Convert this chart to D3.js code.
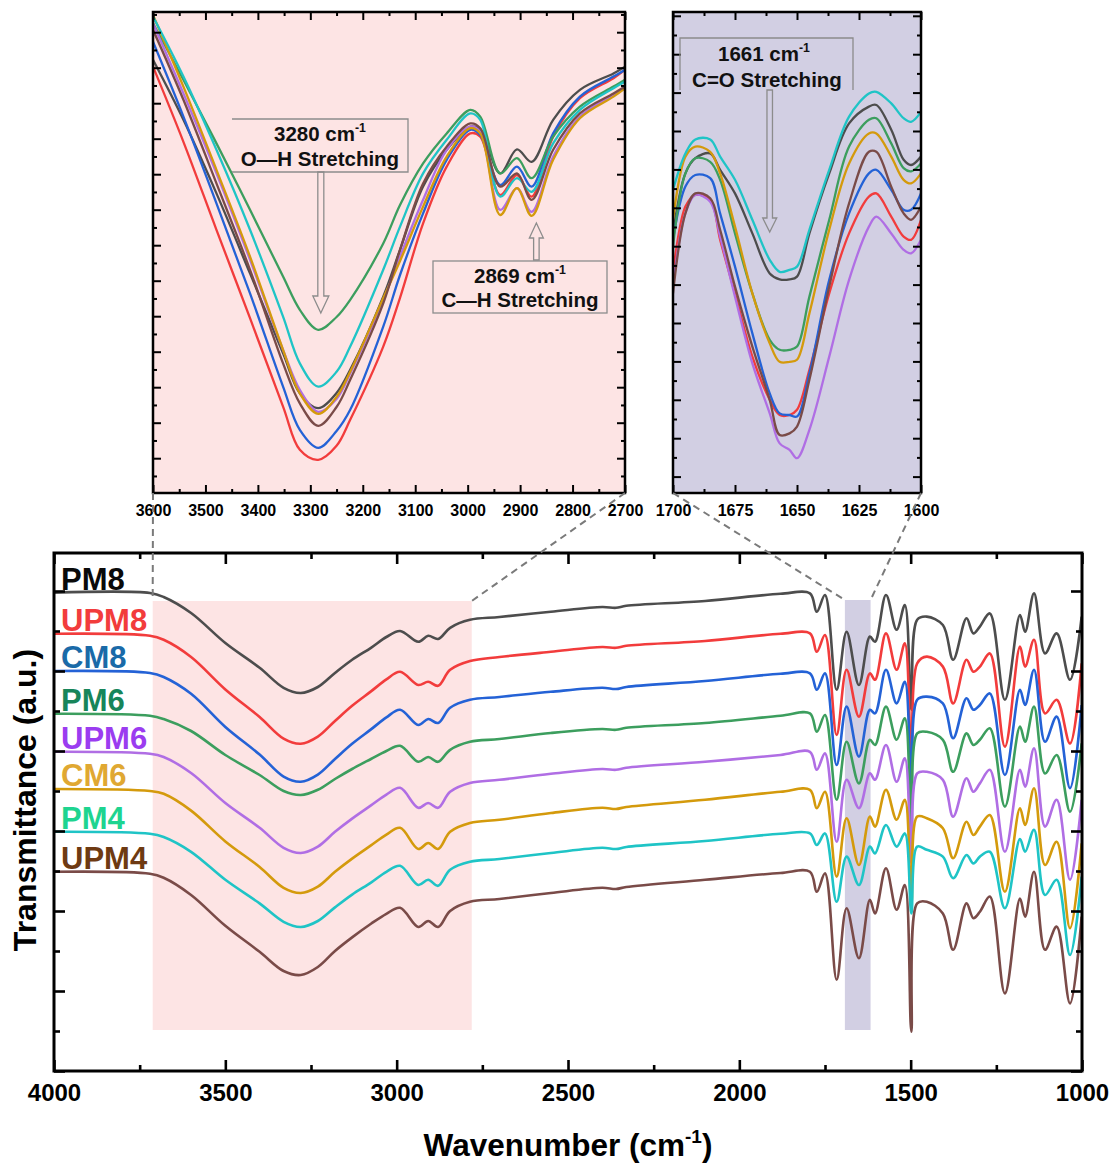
<!DOCTYPE html>
<html>
<head>
<meta charset="utf-8">
<script src="https://cdn.jsdelivr.net/npm/d3@7"></script>
<style>
  body { margin: 0; background: #fff; }
  svg { display: block; }
  text { font-family: "Liberation Sans", Arial, Helvetica, sans-serif; font-weight: bold; }
</style>
</head>
<body>
<svg id="chart" width="1113" height="1164"></svg>
<script>
// ---------------- samples ----------------
const sampleNames = ["PM8", "UPM8", "CM8", "PM6", "UPM6", "CM6", "PM4", "UPM4"];
const lineColors  = ["#4d4d4d", "#f23c3c", "#2462d6", "#3c9e5e", "#b06ee4", "#d49a0c", "#1fc4c6", "#7a4b48"];
const labelColors = ["#0a0a0a", "#f23c3c", "#1a6aa8", "#17855a", "#9b3cf0", "#e0a832", "#1ed490", "#6e3a12"];

// ---------------- full spectra, 4000–1000 cm-1 (stacked, a.u.) ----------------
const mainWavenumbers = [4000, 3720, 3680, 3600, 3500, 3400, 3330, 3280, 3230, 3180,
  3130, 3075, 3030, 2990, 2937, 2908, 2879, 2844, 2786, 2700,
  2550, 2400, 2360, 2330, 2100, 1880,
  1794, 1774, 1750, 1716, 1687, 1651, 1619, 1604, 1572, 1541,
  1517, 1498, 1481, 1453, 1406, 1376, 1337, 1317, 1298, 1269,
  1225, 1181, 1166, 1140, 1108, 1074, 1035, 1001];

const mainPM8 = [119.6, 119.5, 118.5, 114.5, 107.0, 100.8, 95.8, 94.5, 96.0, 99.5,
  102.8, 105.8, 108.5, 110.0, 107.3, 108.8, 108.0, 110.8, 112.8, 113.5,
  114.8, 116.0, 115.8, 116.3, 117.5, 119.3,
  119.4, 114.8, 119.0, 95.3, 109.8, 96.5, 108.6, 107.3, 119.0, 110.3,
  116.5, 90.3, 112.8, 113.6, 111.5, 102.8, 113.2, 109.4, 111.1, 114.4,
  92.8, 114.0, 109.8, 119.4, 104.4, 109.4, 97.8, 113.6];
const mainUPM8 = [109.3, 108.8, 107.8, 103.5, 95.4, 88.5, 83.1, 81.8, 83.6, 87.5,
  91.3, 94.9, 97.9, 99.8, 96.5, 97.3, 96.3, 100.3, 102.5, 103.5,
  104.8, 106.0, 105.8, 106.3, 107.5, 109.3,
  109.4, 104.8, 109.0, 84.0, 100.3, 88.6, 99.4, 97.8, 109.4, 100.3,
  106.9, 78.6, 101.9, 103.6, 101.1, 91.9, 102.8, 99.8, 101.1, 104.4,
  81.1, 106.1, 101.1, 107.8, 89.4, 92.8, 81.9, 101.9];
const mainCM8 = [100.0, 99.5, 98.5, 94.3, 86.0, 79.1, 73.6, 72.3, 74.1, 78.0,
  81.8, 85.4, 88.4, 90.3, 86.5, 88.0, 87.0, 90.8, 92.8, 93.5,
  94.8, 95.8, 95.5, 96.0, 97.5, 99.3,
  99.4, 95.3, 99.4, 76.5, 91.1, 78.6, 90.3, 89.4, 100.3, 91.9,
  97.3, 68.6, 92.8, 93.6, 91.9, 83.2, 93.2, 90.3, 91.5, 94.4,
  74.0, 95.3, 91.5, 100.3, 82.3, 88.6, 70.7, 91.5];
const mainPM6 = [89.3, 88.8, 88.0, 85.0, 79.0, 74.0, 70.0, 69.0, 70.3, 73.0,
  75.5, 78.0, 80.0, 81.3, 77.3, 78.5, 77.3, 80.3, 82.3, 83.0,
  84.5, 85.5, 85.3, 85.8, 87.0, 88.8,
  89.4, 84.8, 89.0, 67.8, 82.3, 71.9, 82.8, 81.5, 91.1, 82.8,
  88.2, 59.4, 84.4, 84.8, 82.8, 74.8, 84.4, 81.5, 82.8, 85.7,
  66.1, 86.1, 82.3, 91.1, 74.4, 79.0, 64.8, 81.9];
const mainUPM6 = [79.8, 79.3, 78.5, 74.5, 67.0, 60.8, 55.8, 54.5, 56.1, 59.8,
  63.1, 66.4, 69.1, 70.8, 65.8, 67.0, 65.8, 69.8, 72.0, 72.8,
  74.3, 75.5, 75.3, 75.8, 77.3, 79.0,
  79.8, 75.3, 79.4, 57.3, 72.8, 65.7, 74.4, 72.8, 81.5, 72.3,
  78.2, 51.9, 74.4, 74.8, 72.8, 63.6, 73.2, 69.8, 71.9, 75.3,
  54.8, 75.3, 71.1, 80.7, 61.1, 67.8, 47.8, 67.8];
const mainCM6 = [70.5, 70.0, 69.3, 65.1, 57.4, 51.0, 45.8, 44.5, 46.1, 49.8,
  53.1, 56.4, 59.1, 60.8, 55.5, 57.0, 55.5, 59.8, 62.0, 62.8,
  64.5, 65.8, 65.5, 66.0, 67.8, 69.8,
  70.3, 65.7, 69.8, 48.6, 63.2, 51.5, 63.6, 61.1, 70.3, 62.8,
  67.8, 41.9, 63.6, 63.2, 60.7, 53.2, 62.3, 59.0, 61.1, 64.0,
  44.8, 65.7, 61.5, 70.7, 51.5, 57.3, 35.7, 56.9];
const mainPM4 = [59.8, 59.3, 58.5, 54.8, 47.8, 41.9, 37.3, 36.0, 37.5, 40.9,
  44.1, 47.1, 49.8, 51.3, 46.5, 47.8, 46.3, 50.3, 52.3, 53.0,
  54.5, 55.8, 55.5, 56.0, 57.5, 59.3,
  59.4, 56.5, 59.4, 42.3, 53.6, 46.5, 56.1, 54.4, 61.5, 56.1,
  59.4, 39.4, 56.1, 55.3, 53.6, 48.2, 54.0, 51.9, 53.6, 54.8,
  40.7, 58.0, 54.8, 60.3, 44.0, 47.8, 29.0, 48.6];
const mainUPM4 = [49.8, 49.3, 48.3, 44.0, 36.3, 29.8, 25.0, 24.0, 26.0, 30.0,
  33.4, 36.8, 39.3, 40.8, 36.0, 37.5, 36.0, 40.0, 42.3, 43.0,
  44.5, 45.8, 45.5, 46.0, 47.8, 49.5,
  49.8, 44.8, 49.4, 22.8, 40.7, 28.2, 42.8, 39.4, 50.7, 40.3,
  46.5, 9.8, 41.9, 42.3, 39.4, 30.3, 41.9, 38.2, 39.8, 43.6,
  19.4, 43.1, 38.6, 49.8, 30.3, 36.1, 16.9, 38.6];

// ---------------- O–H / C–H region, 3600–2700 cm-1 (overlaid, a.u.) ----------------
const ohWavenumbers = [3600, 3542, 3479, 3415, 3352, 3320, 3285, 3250, 3224, 3161,
  3129, 3085, 3040, 2995, 2976, 2938, 2906, 2878, 2837, 2786, 2722, 2700];
const ohPM8  = [108.3, 93.3, 74.9, 54.9, 34.9, 24.9, 21.2, 25.0, 30.8, 49.1, 60.8, 76.6, 85.8, 91.6, 90.8, 79.9, 85.9, 82.8, 93.3, 100.8, 104.9, 106.6];
const ohUPM8 = [106.6, 87.8, 65.8, 43.7, 21.6, 10.8, 8.3, 11.8, 18.3, 36.6, 48.8, 67.4, 81.6, 89.9, 89.1, 74.5, 79.5, 74.1, 89.1, 98.7, 103.7, 105.8];
const ohCM8  = [112.8, 94.1, 72.4, 49.9, 26.6, 15.8, 11.3, 15.5, 20.8, 41.6, 54.5, 69.9, 83.3, 90.8, 89.5, 77.0, 81.6, 76.6, 89.9, 99.1, 104.1, 105.8];
const ohPM6  = [117.4, 103.3, 87.4, 70.8, 54.1, 45.8, 40.8, 44.0, 48.3, 62.4, 72.0, 82.4, 89.9, 95.8, 94.1, 79.9, 83.7, 78.7, 89.1, 96.6, 101.6, 103.3];
const ohUPM6 = [117.4, 99.9, 79.9, 58.3, 35.8, 25.8, 20.3, 23.5, 29.9, 48.3, 59.1, 73.3, 85.8, 91.6, 90.3, 70.8, 76.2, 70.3, 84.1, 94.1, 99.5, 101.2];
const ohCM6  = [119.5, 101.6, 80.8, 59.1, 35.8, 24.9, 19.8, 24.0, 30.3, 48.7, 58.0, 71.6, 84.1, 91.2, 89.9, 69.5, 76.2, 69.3, 83.3, 93.7, 99.1, 101.2];
const ohPM4  = [119.1, 104.1, 85.8, 65.8, 44.1, 32.4, 26.6, 30.3, 36.6, 55.8, 66.6, 79.9, 88.3, 94.9, 93.3, 74.1, 78.7, 75.3, 87.4, 95.8, 101.2, 102.8];
const ohUPM4 = [115.8, 98.3, 77.4, 55.8, 32.4, 22.4, 16.8, 21.5, 28.3, 47.4, 60.8, 77.4, 86.6, 92.4, 91.2, 76.6, 79.9, 73.3, 85.8, 94.9, 99.9, 101.6];

// ---------------- C=O region, 1700–1600 cm-1 (overlaid, a.u.) ----------------
const coWavenumbers = [1700, 1695, 1691, 1685, 1681, 1675, 1668, 1661, 1657, 1653,
  1650, 1645, 1637, 1629, 1621, 1618, 1612, 1607, 1604, 1600];
const coPM8  = [64.9, 79.9, 83.7, 84.9, 80.8, 74.9, 64.9, 54.9, 53.4, 53.4, 54.1, 64.9, 79.9, 92.4, 96.6, 97.0, 90.8, 83.3, 82.0, 84.1];
const coUPM8 = [54.9, 71.6, 74.5, 73.3, 63.3, 49.9, 34.1, 23.3, 19.5, 19.5, 20.8, 30.8, 49.9, 64.9, 74.1, 74.9, 69.1, 64.1, 63.3, 68.3];
const coCM8  = [63.3, 76.6, 79.5, 78.7, 69.9, 56.6, 39.9, 24.9, 19.9, 19.5, 19.1, 29.9, 53.3, 69.9, 79.9, 80.8, 75.8, 70.8, 70.8, 74.9];
const coPM6  = [61.6, 79.9, 83.7, 82.8, 78.3, 64.9, 49.9, 38.3, 35.8, 35.8, 36.6, 49.1, 68.3, 86.6, 93.3, 93.7, 87.4, 81.2, 80.4, 82.4];
const coUPM6 = [51.6, 69.9, 74.5, 72.8, 64.1, 49.1, 32.4, 19.9, 12.4, 10.8, 8.7, 15.8, 34.1, 53.3, 66.6, 69.1, 64.9, 60.8, 59.9, 63.3];
const coCM6  = [68.3, 84.1, 86.6, 85.3, 79.9, 66.6, 49.9, 37.4, 32.8, 32.8, 33.3, 44.9, 65.8, 82.4, 89.9, 89.9, 84.1, 78.3, 77.4, 79.9];
const coPM4  = [75.8, 84.9, 88.4, 88.4, 84.1, 78.3, 68.3, 58.3, 55.3, 55.8, 56.6, 65.8, 80.8, 94.1, 99.9, 100.3, 97.4, 93.7, 92.8, 95.3];
const coUPM4 = [49.9, 69.9, 74.9, 73.7, 65.8, 51.6, 36.6, 23.3, 14.5, 14.9, 16.6, 28.3, 51.6, 72.4, 85.3, 85.3, 76.6, 69.9, 68.3, 71.6];

// ---------------- tick labels ----------------
const mainTickLabels = [4000, 3500, 3000, 2500, 2000, 1500, 1000];
const ohTickLabels = [3600, 3500, 3400, 3300, 3200, 3100, 3000, 2900, 2800, 2700];
const coTickLabels = [1700, 1675, 1650, 1625, 1600];

// highlighted bands and band assignments
const ohBand = [3712, 2781];
const coBand = [1692, 1617];
const ohPeak = 3280, chPeak = 2869, coPeak = 1661;

// ---------------- assemble series ----------------
const mainSeries = [mainPM8, mainUPM8, mainCM8, mainPM6, mainUPM6, mainCM6, mainPM4, mainUPM4];
const ohSeries = [ohPM8, ohUPM8, ohCM8, ohPM6, ohUPM6, ohCM6, ohPM4, ohUPM4];
const coSeries = [coPM8, coUPM8, coCM8, coPM6, coUPM6, coCM6, coPM4, coUPM4];

const svg = d3.select("#chart");
const PINK = "#fde4e4", LAVENDER = "#d2cfe3";

// ---------------- scales ----------------
const xMain = d3.scaleLinear().domain([4000, 1000]).range([54, 1082]);
const yMain = d3.scaleLinear().domain([0, 129.5]).range([1071, 553]);
const xOH = d3.scaleLinear().domain([3600, 2700]).range([153, 625]);
const xCO = d3.scaleLinear().domain([1700, 1600]).range([673, 921]);
const yIn = d3.scaleLinear().domain([0, 120.25]).range([493, 12]);

function pairs(xs, ys) { return xs.map((w, i) => [w, ys[i]]); }

function addClip(id, x0, y0, x1, y1) {
  svg.append("clipPath").attr("id", id).append("rect")
    .attr("x", x0).attr("y", y0).attr("width", x1 - x0).attr("height", y1 - y0);
}

function drawFrameAxes(g, x, y, opts) {
  const [x0, x1] = x.range();
  const [y1, y0] = y.range();
  const styleAxis = sel => {
    sel.select(".domain").remove();
    sel.selectAll("line").attr("stroke", "#000").attr("stroke-width", opts.tickWidth);
  };
  const minorX = opts.minorX, minorY = opts.minorY;
  g.append("g").attr("transform", `translate(0,${y1})`)
    .call(d3.axisBottom(x).tickValues(minorX).tickSize(-opts.minorLen).tickFormat(""))
    .call(styleAxis);
  g.append("g").attr("transform", `translate(0,${y0})`)
    .call(d3.axisTop(x).tickValues(minorX).tickSize(-opts.minorLen).tickFormat(""))
    .call(styleAxis);
  g.append("g").attr("transform", `translate(${x0},0)`)
    .call(d3.axisLeft(y).tickValues(minorY).tickSize(-opts.minorLen).tickFormat(""))
    .call(styleAxis);
  g.append("g").attr("transform", `translate(${x1},0)`)
    .call(d3.axisRight(y).tickValues(minorY).tickSize(-opts.minorLen).tickFormat(""))
    .call(styleAxis);
  const bottom = g.append("g").attr("transform", `translate(0,${y1})`)
    .call(d3.axisBottom(x).tickValues(opts.labels).tickSize(-opts.majorLen)
      .tickPadding(opts.pad).tickFormat(d3.format("d")))
    .call(styleAxis);
  bottom.attr("font-family", null).attr("font-size", null);
  bottom.selectAll("text")
    .attr("font-size", opts.fontSize)
    .style("font-family", '"Liberation Sans", Arial, sans-serif')
    .style("font-weight", "bold").attr("fill", "#000");
  g.append("g").attr("transform", `translate(0,${y0})`)
    .call(d3.axisTop(x).tickValues(opts.labels).tickSize(-opts.majorLen).tickFormat(""))
    .call(styleAxis);
  g.append("g").attr("transform", `translate(${x0},0)`)
    .call(d3.axisLeft(y).tickValues(opts.majorY).tickSize(-opts.majorLen).tickFormat(""))
    .call(styleAxis);
  g.append("g").attr("transform", `translate(${x1},0)`)
    .call(d3.axisRight(y).tickValues(opts.majorY).tickSize(-opts.majorLen).tickFormat(""))
    .call(styleAxis);
  g.append("rect").attr("x", x0).attr("y", y0).attr("width", x1 - x0).attr("height", y1 - y0)
    .attr("fill", "none").attr("stroke", "#000").attr("stroke-width", opts.frameWidth);
}

function cmText(g, x, y, prefix, size, suffix, anchor) {
  const t = g.append("text").attr("x", x).attr("y", y).attr("font-size", size)
    .attr("text-anchor", anchor || "middle").attr("fill", "#111");
  t.append("tspan").text(prefix);
  t.append("tspan").attr("font-size", size * 0.6).attr("dy", -size * 0.42).text("-1");
  if (suffix) t.append("tspan").attr("dy", size * 0.42).text(suffix);
  return t;
}

function hollowArrow(g, x, yTail, yTip, shaft, headW, headL) {
  const dir = yTip > yTail ? 1 : -1;
  const yNeck = yTip - dir * headL;
  const p = d3.path();
  p.moveTo(x - shaft / 2, yTail);
  p.lineTo(x + shaft / 2, yTail);
  p.lineTo(x + shaft / 2, yNeck);
  p.lineTo(x + headW / 2, yNeck);
  p.lineTo(x, yTip);
  p.lineTo(x - headW / 2, yNeck);
  p.lineTo(x - shaft / 2, yNeck);
  p.closePath();
  g.append("path").attr("d", p.toString()).attr("fill", "none")
    .attr("stroke", "#8c8c8c").attr("stroke-width", 1.3);
}

const smooth = d3.curveCatmullRom.alpha(0.5);

// =============== main panel ===============
addClip("clipMain", 54, 553, 1082, 1071);
const gMain = svg.append("g");

gMain.append("rect")
  .attr("x", xMain(ohBand[0])).attr("y", yMain(117.5))
  .attr("width", xMain(ohBand[1]) - xMain(ohBand[0])).attr("height", yMain(10.25) - yMain(117.5))
  .attr("fill", PINK);
gMain.append("rect")
  .attr("x", xMain(coBand[0])).attr("y", yMain(117.75))
  .attr("width", xMain(coBand[1]) - xMain(coBand[0])).attr("height", yMain(10.25) - yMain(117.75))
  .attr("fill", LAVENDER);

const lineMain = d3.line().x(d => xMain(d[0])).y(d => yMain(d[1])).curve(smooth);
gMain.append("g").attr("clip-path", "url(#clipMain)")
  .selectAll("path").data(mainSeries).join("path")
  .attr("d", s => lineMain(pairs(mainWavenumbers, s)))
  .attr("fill", "none").attr("stroke", (s, i) => lineColors[i])
  .attr("stroke-width", 2.6).attr("stroke-linejoin", "round");

drawFrameAxes(gMain, xMain, yMain, {
  labels: mainTickLabels,
  minorX: [3750, 3250, 2750, 2250, 1750, 1250],
  majorY: [0, 20, 40, 60, 80, 100, 120],
  minorY: [10, 30, 50, 70, 90, 110],
  majorLen: 11, minorLen: 6, tickWidth: 2.6, frameWidth: 3, pad: 13, fontSize: 24
});

// sample labels at the start of each trace
gMain.selectAll("text.sample").data(sampleNames).join("text")
  .attr("class", "sample")
  .attr("x", 61)
  .attr("y", (d, i) => yMain(mainSeries[i][0]) - 3)
  .attr("font-size", 31)
  .attr("fill", (d, i) => labelColors[i])
  .text(d => d);

// axis titles
const xTitle = svg.append("text").attr("x", 568).attr("y", 1156).attr("font-size", 31.5)
  .attr("text-anchor", "middle").attr("fill", "#000");
xTitle.append("tspan").text("Wavenumber (cm");
xTitle.append("tspan").attr("font-size", 19).attr("dy", -13).text("-1");
xTitle.append("tspan").attr("dy", 13).text(")");

svg.append("text")
  .attr("transform", "translate(36,800) rotate(-90)")
  .attr("font-size", 32).attr("text-anchor", "middle").attr("fill", "#000")
  .text("Transmittance (a.u.)");

// =============== O–H / C–H inset ===============
addClip("clipOH", 153, 12, 625, 493);
const gOH = svg.append("g");
gOH.append("rect").attr("x", 153).attr("y", 12).attr("width", 472).attr("height", 481).attr("fill", PINK);
const lineOH = d3.line().x(d => xOH(d[0])).y(d => yIn(d[1])).curve(smooth);
gOH.append("g").attr("clip-path", "url(#clipOH)")
  .selectAll("path").data(ohSeries).join("path")
  .attr("d", s => lineOH(pairs(ohWavenumbers, s)))
  .attr("fill", "none").attr("stroke", (s, i) => lineColors[i])
  .attr("stroke-width", 2.3).attr("stroke-linejoin", "round");

drawFrameAxes(gOH, xOH, yIn, {
  labels: ohTickLabels,
  minorX: d3.range(3550, 2700, -100),
  majorY: d3.range(8.7, 120, 8.875),
  minorY: d3.range(4.26, 120, 8.875),
  majorLen: 8, minorLen: 4, tickWidth: 2, frameWidth: 2.5, pad: 12, fontSize: 16
});

// O–H annotation
const ohBox = gOH.append("g");
ohBox.append("path").attr("d", "M232,119H408V172H232").attr("fill", "none")
  .attr("stroke", "#8c8c8c").attr("stroke-width", 1.3);
cmText(ohBox, 320, 141, "3280 cm", 20.5);
ohBox.append("text").attr("x", 320).attr("y", 166).attr("font-size", 20.5)
  .attr("text-anchor", "middle").attr("fill", "#111").text("O\u2014H Stretching");
hollowArrow(gOH, xOH(ohPeak), yIn(80.25), yIn(45), 6, 16, 17);

// C–H annotation
const chBox = gOH.append("g");
chBox.append("rect").attr("x", 433).attr("y", 261).attr("width", 174).attr("height", 52)
  .attr("fill", "none").attr("stroke", "#8c8c8c").attr("stroke-width", 1.3);
cmText(chBox, 520, 283, "2869 cm", 20.5);
chBox.append("text").attr("x", 520).attr("y", 307).attr("font-size", 20.5)
  .attr("text-anchor", "middle").attr("fill", "#111").text("C\u2014H Stretching");
hollowArrow(gOH, xOH(chPeak), yIn(58.25), yIn(67.5), 5.5, 14, 15);

// =============== C=O inset ===============
addClip("clipCO", 673, 12, 921, 493);
const gCO = svg.append("g");
gCO.append("rect").attr("x", 673).attr("y", 12).attr("width", 248).attr("height", 481).attr("fill", LAVENDER);
const lineCO = d3.line().x(d => xCO(d[0])).y(d => yIn(d[1])).curve(smooth);
gCO.append("g").attr("clip-path", "url(#clipCO)")
  .selectAll("path").data(coSeries).join("path")
  .attr("d", s => lineCO(pairs(coWavenumbers, s)))
  .attr("fill", "none").attr("stroke", (s, i) => lineColors[i])
  .attr("stroke-width", 2.3).attr("stroke-linejoin", "round");

drawFrameAxes(gCO, xCO, yIn, {
  labels: coTickLabels,
  minorX: [1687.5, 1662.5, 1637.5, 1612.5],
  majorY: d3.range(4.1, 120, 9.6),
  minorY: d3.range(8.9, 120, 9.6),
  majorLen: 8, minorLen: 4, tickWidth: 2, frameWidth: 2.5, pad: 12, fontSize: 16
});

const coBox = gCO.append("g");
coBox.append("path").attr("d", "M680,90V38H853V90").attr("fill", "none")
  .attr("stroke", "#8c8c8c").attr("stroke-width", 1.3);
cmText(coBox, 764, 61, "1661 cm", 20.5);
coBox.append("text").attr("x", 767).attr("y", 87).attr("font-size", 20.5)
  .attr("text-anchor", "middle").attr("fill", "#111").text("C=O Stretching");
hollowArrow(gCO, xCO(coPeak), yIn(100.75), yIn(65.25), 5.5, 14, 14);

// =============== connectors from insets to highlighted bands ===============
const connectors = [
  [xOH(3600), yIn(0), xMain(ohBand[0]), yMain(117.5)],
  [xOH(2700), yIn(0), xMain(ohBand[1]), yMain(117.5)],
  [xCO(1700), yIn(0), xMain(coBand[0]), yMain(117.75)],
  [xCO(1600), yIn(0), xMain(coBand[1]), yMain(117.75)]
];
svg.append("g").selectAll("line").data(connectors).join("line")
  .attr("x1", d => d[0]).attr("y1", d => d[1]).attr("x2", d => d[2]).attr("y2", d => d[3])
  .attr("stroke", "#7a7a7a").attr("stroke-width", 2).attr("stroke-dasharray", "7,5");
</script>
</body>
</html>
